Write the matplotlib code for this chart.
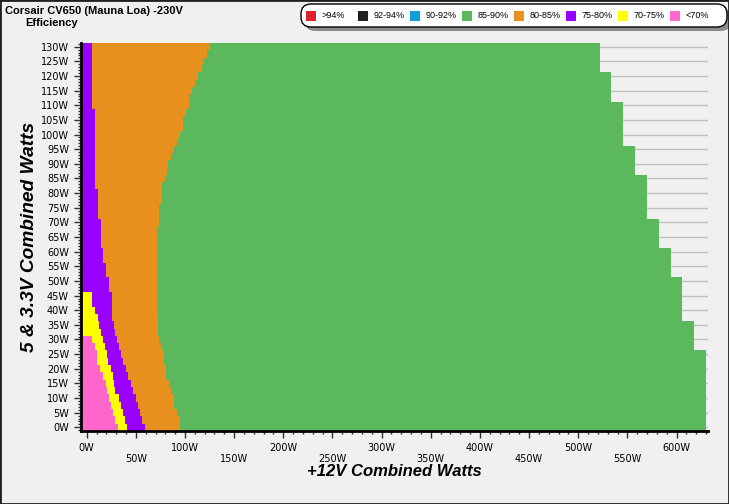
import numpy as np
import matplotlib.pyplot as plt
from matplotlib.patches import FancyBboxPatch, Rectangle
from matplotlib.ticker import MultipleLocator
from matplotlib.transforms import IdentityTransform, blended_transform_factory

# 5 & 3.3V combined load for each row (W)
rail_5v = [0, 2.5, 5, 7.5, 10, 12.5, 15, 17.5, 20, 22.5, 25, 27.5, 30, 32.5, 35, 37.5,
           40, 42.5, 45, 47.5, 50, 52.5, 55, 57.5, 60, 62.5, 65, 67.5, 70, 72.5, 75, 77.5,
           80, 82.5, 85, 87.5, 90, 92.5, 95, 97.5, 100, 102.5, 105, 107.5, 110, 112.5, 115,
           117.5, 120, 122.5, 125, 127.5, 130]

# +12V load where each efficiency band ends, per row (rows from 0W upwards)
lt70_end = [31.8, 29.1, 27, 25, 22.7, 20.5, 20, 16.6, 13.5, 10.8, 10.8, 8.1, 5.4]
e70_75_end = [41, 38.6, 37, 35.2, 32.5, 29.1, 27.7, 26.8, 25, 21.7, 20.5, 19, 16.6, 14.2,
              12.5, 11.5, 8.1, 5.4, 5.4]
e75_80_end = [59, 56.3, 54.5, 52, 50.5, 47.1, 44.7, 42.5, 40, 37, 35.2, 32.5, 31.1, 29.1,
              27.7, 25.7, 25.7, 25.7, 25.7, 22.3, 22.3, 19.6, 19.6, 16.6, 16.6, 14.2, 14.2,
              14.2, 14.2, 11.5, 11.5, 11.5, 11.5, 8.1, 8.1, 8.1, 8.1, 8.1, 8.1, 8.1, 8.1,
              8.1, 8.1, 8.1, 5.4, 5.4, 5.4, 5.4, 5.4, 5.4, 5.4, 5.4, 5.4]
e80_85_end = [94.6, 94.6, 91.9, 88.8, 88.8, 86.1, 83.4, 81, 81, 78.6, 78.6, 75.9, 73.5,
              72.5, 72.5, 72.5, 71.5, 71.5, 71.5, 71.5, 71.5, 71.5, 71.5, 71.5, 71.5, 71.5,
              71.5, 71.5, 73.5, 73.5, 73.5, 76.6, 76.6, 76.6, 79.7, 81.5, 83, 85.8, 89.1,
              92.2, 94.9, 98.3, 98.3, 101, 104, 104, 107.4, 110.5, 113.5, 117, 119.7,
              122.7, 125.6]
e85_90_end = [630, 630, 630, 630, 630, 630, 630, 630, 630, 630, 630, 617.8, 617.8, 617.8,
              617.8, 605.6, 605.6, 605.6, 605.6, 605.6, 605.6, 594.4, 594.4, 594.4, 594.4,
              582.2, 582.2, 582.2, 582.2, 570, 570, 570, 570, 570, 570, 557.8, 557.8, 557.8,
              557.8, 545.6, 545.6, 545.6, 545.6, 545.6, 545.6, 533.4, 533.4, 533.4, 533.4,
              522.4, 522.4, 522.4, 522.4]

legend_labels = ['>94%', '92-94%', '90-92%', '85-90%', '80-85%', '75-80%', '70-75%', '<70%']
legend_colors = ['#e0202a', '#202020', '#10a0d8', '#5cb85c', '#e8901e', '#9900ff',
                 '#ffff00', '#ff66cc']

X_MIN, X_MAX = -6.1, 632
BG = '#f0f0f0'
W, H = 729, 504

fig = plt.figure(figsize=(W / 100, H / 100), dpi=100, facecolor=BG)
ax = fig.add_axes([80.7 / W, 1 - 431 / H, (708 - 80.7) / W, (431 - 42.6) / H])
ax.set_facecolor(BG)

n = len(rail_5v)
bands = [(lt70_end, '#ff66cc'), (e70_75_end, '#ffff00'), (e75_80_end, '#9900ff'),
         (e80_85_end, '#e8901e'), (e85_90_end, '#5cb85c')]
prev = np.full(n, X_MIN)
for ends, col in bands:
    end = prev.copy()
    end[:len(ends)] = ends
    ax.barh(rail_5v, end - prev, left=prev, height=2.5, color=col, linewidth=0, zorder=2)
    prev = end

ax.set_xlim(X_MIN, X_MAX)
ax.set_ylim(-1.25, 131.4)

# ticks
yt = np.arange(0, 131, 5)
ax.set_yticks(yt)
ax.set_yticklabels([f"{v}W" for v in yt])
ax.yaxis.set_minor_locator(MultipleLocator(1))
xt = np.arange(0, 601, 50)
ax.set_xticks(xt)
ax.set_xticklabels([])
ax.xaxis.set_minor_locator(MultipleLocator(10))
ax.tick_params(which='major', length=5, width=1, labelsize=7, color='#303030')
ax.tick_params(which='minor', length=2.5, width=1, color='#303030')

# x labels on two staggered rows
tr = blended_transform_factory(ax.transData, fig.transFigure)
for i, v in enumerate(xt):
    ypx = 448 if i % 2 == 0 else 459
    ax.text(v, 1 - ypx / H, f"{v}W", transform=tr, ha='center', va='center', fontsize=7)

ax.grid(axis='y', which='major', color='#c0c0c0', linewidth=1, zorder=0)
ax.set_axisbelow(True)
for s in ['top', 'right']:
    ax.spines[s].set_visible(False)
for s in ['left', 'bottom']:
    ax.spines[s].set_linewidth(2)
    ax.spines[s].set_color('black')

lab_font = dict(family=['Liberation Sans Narrow', 'Liberation Sans'], fontweight='bold',
                fontstyle='italic')
fig.text(394 / W, 1 - 472 / H, '+12V Combined Watts', ha='center', va='center',
         fontsize=12, **lab_font)
fig.text(30 / W, 1 - 237 / H, '5 & 3.3V Combined Watts', ha='center', va='center',
         rotation=90, fontsize=13.8, **lab_font)

title_font = dict(family=['Liberation Sans', 'DejaVu Sans'], fontweight='bold', fontsize=8)
fig.text(5 / W, 1 - 11 / H, 'Corsair CV650 (Mauna Loa) -230V', ha='left', va='center', **title_font)
fig.text(25 / W, 1 - 23 / H, 'Efficiency', ha='left', va='center', **title_font)

# legend box drawn in pixel coordinates
ident = IdentityTransform()
shadow = FancyBboxPatch((305, H - 31), 426, 23, boxstyle='round,pad=0,rounding_size=10',
                        transform=ident, facecolor='#8c8c8c', edgecolor='none')
box = FancyBboxPatch((301, H - 27), 426, 23, boxstyle='round,pad=0,rounding_size=10',
                     transform=ident, facecolor='white', edgecolor='black', linewidth=1)
fig.patches.extend([shadow, box])
for i, (lab, col) in enumerate(zip(legend_labels, legend_colors)):
    x0 = 306 + 52 * i
    fig.patches.append(Rectangle((x0, H - 20.7), 9.7, 9.7, transform=ident,
                                 facecolor=col, edgecolor='none'))
    fig.text((x0 + 16) / W, 1 - 16 / H, lab, ha='left', va='center', fontsize=6.5,
             family=['Liberation Sans', 'DejaVu Sans'])

# outer frame
fig.patches.append(Rectangle((0, 0), 1, 1, transform=fig.transFigure, fill=False,
                             edgecolor='#202020', linewidth=2))

fig.savefig('out.png', dpi=100, facecolor=BG)
